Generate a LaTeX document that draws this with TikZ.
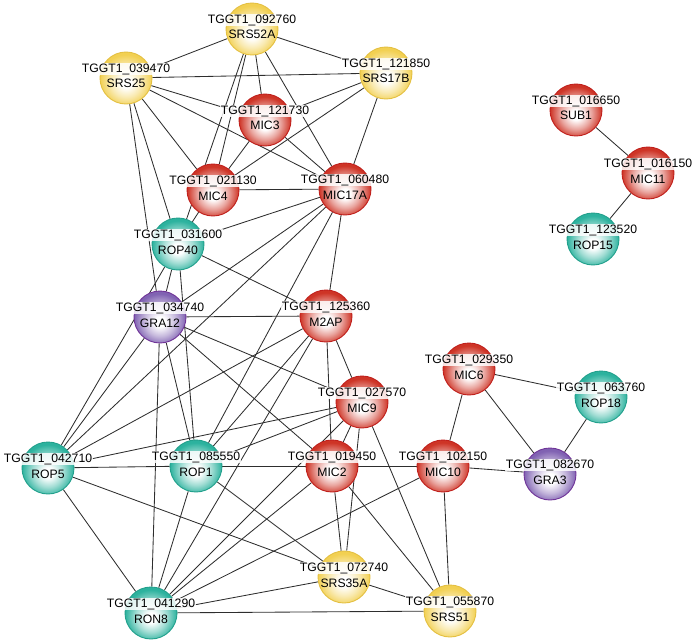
\documentclass[tikz,border=0pt]{standalone}
\usepackage{fontspec}
\setmainfont{Liberation Sans}
\usetikzlibrary{backgrounds}
\definecolor{rimred}{RGB}{206,52,38}
\definecolor{rimyellow}{RGB}{242,208,82}
\definecolor{rimteal}{RGB}{44,178,158}
\definecolor{rimpurple}{RGB}{128,98,178}
\definecolor{edgered}{RGB}{192,32,28}
\definecolor{edgeyellow}{RGB}{228,192,66}
\definecolor{edgeteal}{RGB}{34,160,140}
\definecolor{edgepurple}{RGB}{112,52,152}
\pgfdeclareradialshading{redglow}{\pgfpoint{0bp}{-5bp}}{color(0bp)=(white); color(5bp)=(white); color(15bp)=(rimred!45!white); color(25bp)=(rimred); color(50bp)=(rimred)}
\pgfdeclareradialshading{yellowglow}{\pgfpoint{0bp}{-5bp}}{color(0bp)=(white); color(5bp)=(white); color(15bp)=(rimyellow!45!white); color(25bp)=(rimyellow); color(50bp)=(rimyellow)}
\pgfdeclareradialshading{tealglow}{\pgfpoint{0bp}{-5bp}}{color(0bp)=(white); color(5bp)=(white); color(15bp)=(rimteal!45!white); color(25bp)=(rimteal); color(50bp)=(rimteal)}
\pgfdeclareradialshading{purpleglow}{\pgfpoint{0bp}{-5bp}}{color(0bp)=(white); color(5bp)=(white); color(15bp)=(rimpurple!45!white); color(25bp)=(rimpurple); color(50bp)=(rimpurple)}
\begin{document}
\begin{tikzpicture}[x=1pt, y=-1pt,
    ball/.style={circle, minimum size=52pt, inner sep=0pt, line width=0.9pt},
    redball/.style={ball, draw=edgered, shading=redglow},
    yellowball/.style={ball, draw=edgeyellow, shading=yellowglow},
    tealball/.style={ball, draw=edgeteal, shading=tealglow},
    purpleball/.style={ball, draw=edgepurple, shading=purpleglow},
    idtag/.style={anchor=base, fill=white, fill opacity=0.85, text opacity=1, inner sep=0.5pt, font=\fontsize{12.2}{14}\selectfont},
    nametag/.style={anchor=base, inner sep=0pt, font=\fontsize{12.2}{14}\selectfont},
    link/.style={draw=black!82, line width=0.85pt}]
    \useasboundingbox (0,0) rectangle (697,642);
    \node (srs52a) [yellowball] at (252,29) {};
    \node (srs25) [yellowball] at (126,78) {};
    \node (srs17b) [yellowball] at (386,73) {};
    \node (mic3) [redball] at (265,120) {};
    \node (mic4) [redball] at (213,190) {};
    \node (mic17a) [redball] at (345,189) {};
    \node (rop40) [tealball] at (178,244) {};
    \node (gra12) [purpleball] at (160,317) {};
    \node (m2ap) [redball] at (326,316) {};
    \node (mic9) [redball] at (362,402) {};
    \node (rop5) [tealball] at (48,468) {};
    \node (rop1) [tealball] at (196,466) {};
    \node (mic2) [redball] at (332,466) {};
    \node (mic10) [redball] at (443,466) {};
    \node (mic6) [redball] at (469,369) {};
    \node (rop18) [tealball] at (601,397) {};
    \node (gra3) [purpleball] at (550,474) {};
    \node (srs35a) [yellowball] at (344,577) {};
    \node (srs51) [yellowball] at (450,611) {};
    \node (ron8) [tealball] at (151,613) {};
    \node (sub1) [redball] at (576,110) {};
    \node (mic11) [redball] at (648,173) {};
    \node (rop15) [tealball] at (593,239) {};

    \node (srs52aid) [idtag] at ([yshift=5.5pt]srs52a.center) {TGGT1\_092760};
    \node (srs25id) [idtag] at ([yshift=5.5pt]srs25.center) {TGGT1\_039470};
    \node (srs17bid) [idtag] at ([yshift=5.5pt]srs17b.center) {TGGT1\_121850};
    \node (mic3id) [idtag] at ([yshift=5.5pt]mic3.center) {TGGT1\_121730};
    \node (mic4id) [idtag] at ([yshift=5.5pt]mic4.center) {TGGT1\_021130};
    \node (mic17aid) [idtag] at ([yshift=5.5pt]mic17a.center) {TGGT1\_060480};
    \node (rop40id) [idtag] at ([yshift=5.5pt]rop40.center) {TGGT1\_031600};
    \node (gra12id) [idtag] at ([yshift=5.5pt]gra12.center) {TGGT1\_034740};
    \node (m2apid) [idtag] at ([yshift=5.5pt]m2ap.center) {TGGT1\_125360};
    \node (mic9id) [idtag] at ([yshift=5.5pt]mic9.center) {TGGT1\_027570};
    \node (rop5id) [idtag] at ([yshift=5.5pt]rop5.center) {TGGT1\_042710};
    \node (rop1id) [idtag] at ([yshift=5.5pt]rop1.center) {TGGT1\_085550};
    \node (mic2id) [idtag] at ([yshift=5.5pt]mic2.center) {TGGT1\_019450};
    \node (mic10id) [idtag] at ([yshift=5.5pt]mic10.center) {TGGT1\_102150};
    \node (mic6id) [idtag] at ([yshift=5.5pt]mic6.center) {TGGT1\_029350};
    \node (rop18id) [idtag] at ([yshift=5.5pt]rop18.center) {TGGT1\_063760};
    \node (gra3id) [idtag] at ([yshift=5.5pt]gra3.center) {TGGT1\_082670};
    \node (srs35aid) [idtag] at ([yshift=5.5pt]srs35a.center) {TGGT1\_072740};
    \node (srs51id) [idtag] at ([yshift=5.5pt]srs51.center) {TGGT1\_055870};
    \node (ron8id) [idtag] at ([yshift=5.5pt]ron8.center) {TGGT1\_041290};
    \node (sub1id) [idtag] at ([yshift=5.5pt]sub1.center) {TGGT1\_016650};
    \node (mic11id) [idtag] at ([yshift=5.5pt]mic11.center) {TGGT1\_016150};
    \node (rop15id) [idtag] at ([yshift=5.5pt]rop15.center) {TGGT1\_123520};

    \node (srs52anm) [nametag] at ([yshift=-10pt]srs52a.center) {SRS52A};
    \node (srs25nm) [nametag] at ([yshift=-10pt]srs25.center) {SRS25};
    \node (srs17bnm) [nametag] at ([yshift=-10pt]srs17b.center) {SRS17B};
    \node (mic3nm) [nametag] at ([yshift=-10pt]mic3.center) {MIC3};
    \node (mic4nm) [nametag] at ([yshift=-10pt]mic4.center) {MIC4};
    \node (mic17anm) [nametag] at ([yshift=-10pt]mic17a.center) {MIC17A};
    \node (rop40nm) [nametag] at ([yshift=-10pt]rop40.center) {ROP40};
    \node (gra12nm) [nametag] at ([yshift=-10pt]gra12.center) {GRA12};
    \node (m2apnm) [nametag] at ([yshift=-10pt]m2ap.center) {M2AP};
    \node (mic9nm) [nametag] at ([yshift=-10pt]mic9.center) {MIC9};
    \node (rop5nm) [nametag] at ([yshift=-10pt]rop5.center) {ROP5};
    \node (rop1nm) [nametag] at ([yshift=-10pt]rop1.center) {ROP1};
    \node (mic2nm) [nametag] at ([yshift=-10pt]mic2.center) {MIC2};
    \node (mic10nm) [nametag] at ([yshift=-10pt]mic10.center) {MIC10};
    \node (mic6nm) [nametag] at ([yshift=-10pt]mic6.center) {MIC6};
    \node (rop18nm) [nametag] at ([yshift=-10pt]rop18.center) {ROP18};
    \node (gra3nm) [nametag] at ([yshift=-10pt]gra3.center) {GRA3};
    \node (srs35anm) [nametag] at ([yshift=-10pt]srs35a.center) {SRS35A};
    \node (srs51nm) [nametag] at ([yshift=-10pt]srs51.center) {SRS51};
    \node (ron8nm) [nametag] at ([yshift=-10pt]ron8.center) {RON8};
    \node (sub1nm) [nametag] at ([yshift=-10pt]sub1.center) {SUB1};
    \node (mic11nm) [nametag] at ([yshift=-10pt]mic11.center) {MIC11};
    \node (rop15nm) [nametag] at ([yshift=-10pt]rop15.center) {ROP15};

    \begin{scope}[on background layer]
    \draw[link] (srs52a) -- (srs25);
    \draw[link] (srs52a) -- (srs17b);
    \draw[link] (srs52a) -- (mic3);
    \draw[link] (srs52a) -- (mic4);
    \draw[link] (srs52a) -- (rop40);
    \draw[link] (srs52a) -- (mic17a);
    \draw[link] (srs25) -- (srs17b);
    \draw[link] (srs25) -- (mic3);
    \draw[link] (srs25) -- (mic17a);
    \draw[link] (srs25) -- (mic4);
    \draw[link] (srs25) -- (rop40);
    \draw[link] (srs25) -- (gra12);
    \draw[link] (srs17b) -- (mic3);
    \draw[link] (srs17b) -- (mic4);
    \draw[link] (srs17b) -- (mic17a);
    \draw[link] (mic3) -- (mic4);
    \draw[link] (mic3) -- (mic17a);
    \draw[link] (mic4) -- (mic17a);
    \draw[link] (mic4) -- (rop40);
    \draw[link] (mic17a) -- (rop40);
    \draw[link] (mic17a) -- (gra12);
    \draw[link] (mic17a) -- (rop5);
    \draw[link] (mic17a) -- (rop1);
    \draw[link] (mic17a) -- (m2ap);
    \draw[link] (rop40) -- (m2ap);
    \draw[link] (rop40) -- (gra12);
    \draw[link] (rop40) -- (rop5);
    \draw[link] (rop40) -- (rop1);
    \draw[link] (gra12) -- (m2ap);
    \draw[link] (gra12) -- (rop5);
    \draw[link] (gra12) -- (ron8);
    \draw[link] (gra12) -- (rop1);
    \draw[link] (gra12) -- (mic2);
    \draw[link] (gra12) -- (mic9);
    \draw[link] (m2ap) -- (mic9);
    \draw[link] (m2ap) -- (mic2);
    \draw[link] (m2ap) -- (rop5);
    \draw[link] (m2ap) -- (rop1);
    \draw[link] (m2ap) -- (ron8);
    \draw[link] (mic9) -- (rop5);
    \draw[link] (mic9) -- (rop1);
    \draw[link] (mic9) -- (mic2);
    \draw[link] (mic9) -- (srs35a);
    \draw[link] (mic9) -- (srs51);
    \draw[link] (mic9) -- (ron8);
    \draw[link] (rop5) -- (rop1);
    \draw[link] (rop5) -- (srs35a);
    \draw[link] (rop5) -- (ron8);
    \draw[link] (rop1) -- (mic2);
    \draw[link] (rop1) -- (ron8);
    \draw[link] (rop1) -- (srs35a);
    \draw[link] (mic2) -- (mic10);
    \draw[link] (mic2) -- (ron8);
    \draw[link] (mic2) -- (srs35a);
    \draw[link] (mic2) -- (srs51);
    \draw[link] (mic10) -- (mic6);
    \draw[link] (mic10) -- (gra3);
    \draw[link] (mic10) -- (ron8);
    \draw[link] (mic10) -- (srs51);
    \draw[link] (mic6) -- (rop18);
    \draw[link] (mic6) -- (gra3);
    \draw[link] (rop18) -- (gra3);
    \draw[link] (srs35a) -- (ron8);
    \draw[link] (srs35a) -- (srs51);
    \draw[link] (srs51) -- (ron8);
    \draw[link] (sub1) -- (mic11);
    \draw[link] (mic11) -- (rop15);
    \end{scope}
\end{tikzpicture}
\end{document}
